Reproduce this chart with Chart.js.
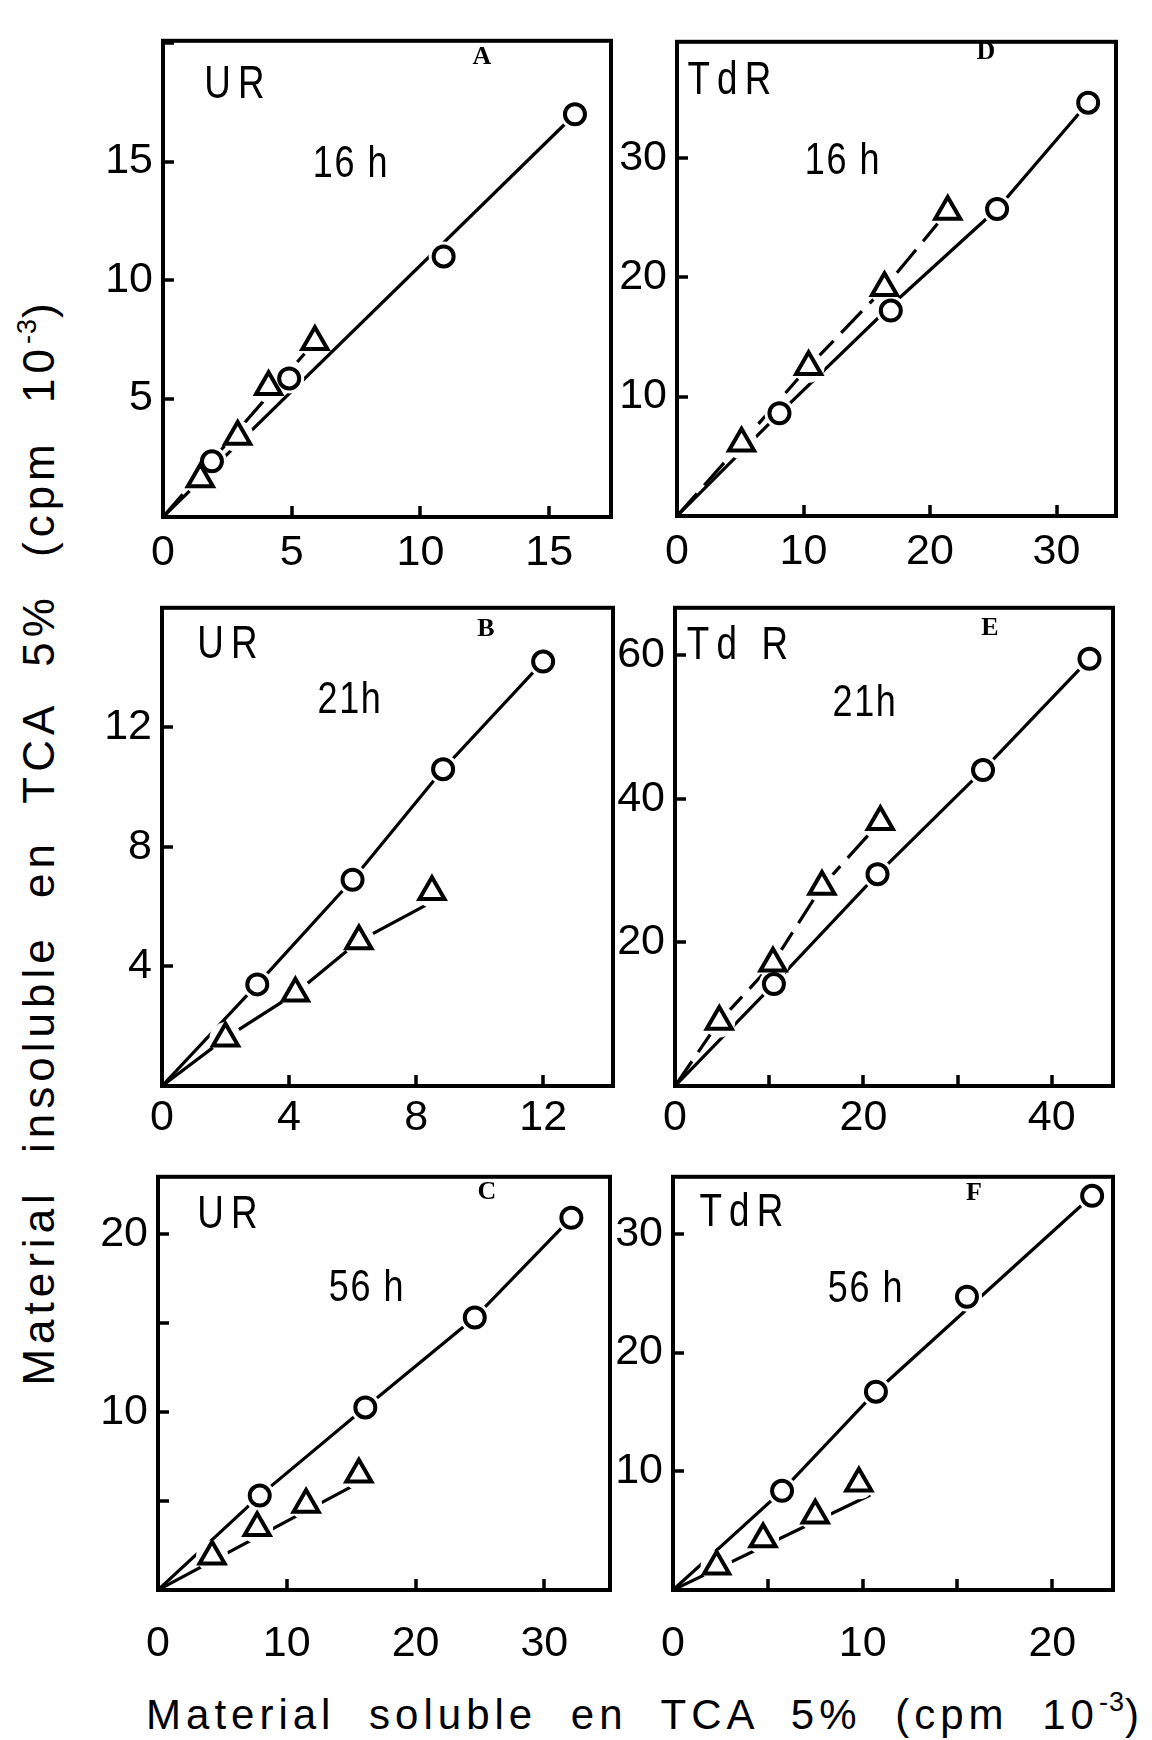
<!DOCTYPE html>
<html>
<head>
<meta charset="utf-8">
<title>Material insoluble vs soluble en TCA 5%</title>
<script src="https://cdn.jsdelivr.net/npm/chart.js@4.4.1/dist/chart.umd.min.js"></script>
<style>
  html, body { margin: 0; padding: 0; background: #fff; }
  #fig { position: relative; width: 1152px; height: 1740px; overflow: hidden; background: #fff; }
  #fig canvas { position: absolute; }
  .txt {
    position: absolute; color: #000; white-space: nowrap; line-height: 1;
    font-family: 'Liberation Sans', Arial, sans-serif;
    transform: translate(-50%, -50%) scaleX(0.8);
  }
  .iso { font-size: 46px; letter-spacing: 9px; }
  .hour { font-size: 45px; letter-spacing: 2px; }
  .tag { font-family: 'Liberation Serif', 'DejaVu Serif', serif; font-weight: bold; font-size: 26px;
         transform: translate(-50%, -50%); }
  .axis { font-size: 42px; letter-spacing: 5px; word-spacing: 17px; transform: translate(-50%, -50%); }
  .axis sup { font-size: 27px; letter-spacing: 1px; vertical-align: 18px; line-height: 0; }
  #ytitle { font-size: 44px; letter-spacing: 5px; word-spacing: 19px; transform: translate(-50%, -50%) rotate(-90deg); }
</style>
</head>
<body>
<div id="fig">
  <canvas id="cA"></canvas><canvas id="cD"></canvas>
  <canvas id="cB"></canvas><canvas id="cE"></canvas>
  <canvas id="cC"></canvas><canvas id="cF"></canvas>

  <div class="txt iso"  style="left:238px;top:82px">UR</div>
  <div class="txt hour" style="left:351px;top:161px">16 h</div>
  <div class="txt tag"  style="left:482px;top:56px">A</div>

  <div class="txt iso"  style="left:733px;top:78px">TdR</div>
  <div class="txt hour" style="left:843px;top:158px">16 h</div>
  <div class="txt tag"  style="left:986px;top:51px">D</div>

  <div class="txt iso"  style="left:231px;top:642px">UR</div>
  <div class="txt hour" style="left:350px;top:697px">21h</div>
  <div class="txt tag"  style="left:486px;top:628px">B</div>

  <div class="txt iso"  style="left:741px;top:643px">Td R</div>
  <div class="txt hour" style="left:865px;top:700px">21h</div>
  <div class="txt tag"  style="left:990px;top:627px">E</div>

  <div class="txt iso"  style="left:231px;top:1212px">UR</div>
  <div class="txt hour" style="left:367px;top:1285px">56 h</div>
  <div class="txt tag"  style="left:487px;top:1191px">C</div>

  <div class="txt iso"  style="left:745px;top:1210px">TdR</div>
  <div class="txt hour" style="left:866px;top:1286px">56 h</div>
  <div class="txt tag"  style="left:974px;top:1192px">F</div>

  <div class="txt axis" id="ytitle" style="left:39px;top:842px">Material insoluble en TCA 5% (cpm 10<sup>-3</sup>)</div>
  <div class="txt axis" id="xtitle" style="left:645px;top:1715px">Material soluble en TCA 5% (cpm 10<sup>-3</sup>)</div>
</div>

<script>
// ---------- data (x = soluble, y = insoluble, cpm 10^-3) ----------

// A — UR, 16 h
const aCircles      = [[1.9, 2.35], [4.9, 5.85], [10.9, 11.0], [16.0, 17.0]];
const aTriangles    = [[1.45, 1.6], [2.9, 3.4], [4.1, 5.5], [5.9, 7.4]];
const aCircleLine   = [[0, 0], [16.0, 17.0]];
const aTriangleLine = [[0, 0], [5.9, 7.4]];
const aXLabels = [0, 5, 10, 15];
const aYLabels = [5, 10, 15];

// D — TdR, 16 h
const dCircles      = [[8.1, 8.6], [16.9, 17.2], [25.3, 25.7], [32.5, 34.6]];
const dTriangles    = [[5.1, 6.1], [10.4, 12.5], [16.4, 19.1], [21.4, 25.5]];
const dCircleLine   = [[0, 0], [8.1, 8.6], [16.9, 17.6], [25.3, 25.7], [32.5, 34.6]];
const dTriangleLine = [[0, 0], [5.1, 6.1], [10.4, 12.5], [16.4, 19.1], [21.4, 25.5]];
const dXLabels = [0, 10, 20, 30];
const dYLabels = [10, 20, 30];

// B — UR, 21 h
const bCircles      = [[3.0, 3.4], [6.0, 6.9], [8.85, 10.6], [12.0, 14.2]];
const bTriangles    = [[2.0, 1.6], [4.2, 3.1], [6.2, 4.85], [8.5, 6.5]];
const bCircleLine   = [[0, 0], [3.0, 3.4], [6.0, 6.9], [8.85, 10.6], [12.0, 14.2]];
const bTriangleLine = [[0, 0], [2.0, 1.6], [4.2, 3.1], [6.2, 4.85], [8.4, 6.1]];
const bXLabels = [0, 4, 8, 12];
const bYLabels = [4, 8, 12];

// E — TdR, 21 h
const eCircles      = [[10.5, 14.2], [21.5, 29.5], [32.7, 44.0], [44.0, 59.5]];
const eTriangles    = [[4.7, 9.0], [10.4, 17.1], [15.6, 27.8], [21.8, 36.8]];
const eCircleLine   = [[0, 0], [10.5, 14.2], [21.5, 29.5], [32.7, 44.0], [44.0, 59.5]];
const eTriangleLine = [[0, 0], [4.7, 9.0], [10.4, 17.1], [15.6, 27.8], [21.8, 36.8]];
const eXLabels = [0, 20, 40];
const eYLabels = [20, 40, 60];

// C — UR, 56 h
const cCircles      = [[7.9, 5.3], [16.1, 10.25], [24.6, 15.3], [32.1, 20.9]];
const cTriangles    = [[4.2, 1.9], [7.7, 3.5], [11.5, 4.8], [15.6, 6.5]];
const cCircleLine   = [[0, 0], [7.9, 5.3], [16.1, 10.25], [24.6, 15.3], [32.1, 20.9]];
const cTriangleLine = [[0, 0], [16.3, 6.3]];
const cXLabels = [0, 10, 20, 30];
const cYLabels = [10, 20];

// F — TdR, 56 h
const fCircles      = [[5.75, 8.35], [10.7, 16.7], [15.5, 24.7], [22.1, 33.2]];
const fTriangles    = [[2.3, 2.0], [4.75, 4.3], [7.5, 6.3], [9.8, 9.0]];
const fCircleLine   = [[0, 0], [5.75, 8.35], [10.7, 16.7], [22.1, 33.2]];
const fTriangleLine = [[0, 0], [10.4, 8.0]];
const fXLabels = [0, 10, 20];
const fYLabels = [10, 20, 30];

// ---------- panel setup: axis extents, steps and placement ----------
const FONT = "'Liberation Sans', Arial, sans-serif";
const PAD = { left: 80, top: 12, right: 24, bottom: 80 };

const panels = [
  { canvas: 'cA', circles: aCircles, triangles: aTriangles, circleLine: aCircleLine, triangleLine: aTriangleLine,
    dashed: true,  xMax: 17.4, yMax: 20.1, xStep: 5,  yStep: 5,  xLabels: aXLabels, yLabels: aYLabels,
    area: { l: 163, r: 611, t: 17, b: 517 }, xPad: 10 },
  { canvas: 'cD', circles: dCircles, triangles: dTriangles, circleLine: dCircleLine, triangleLine: dTriangleLine,
    dashed: true,  xMax: 34.7, yMax: 39.7, xStep: 10, yStep: 10, xLabels: dXLabels, yLabels: dYLabels,
    area: { l: 677, r: 1116, t: 18, b: 516 }, xPad: 10 },
  { canvas: 'cB', circles: bCircles, triangles: bTriangles, circleLine: bCircleLine, triangleLine: bTriangleLine,
    dashed: false, xMax: 14.2, yMax: 16.0, xStep: 4,  yStep: 4,  xLabels: bXLabels, yLabels: bYLabels,
    area: { l: 162, r: 613, t: 584, b: 1086 }, xPad: 6 },
  { canvas: 'cE', circles: eCircles, triangles: eTriangles, circleLine: eCircleLine, triangleLine: eTriangleLine,
    dashed: true,  xMax: 46.5, yMax: 66.6, xStep: 10, yStep: 20, xLabels: eXLabels, yLabels: eYLabels,
    area: { l: 675, r: 1113, t: 584, b: 1086 }, xPad: 6 },
  { canvas: 'cC', circles: cCircles, triangles: cTriangles, circleLine: cCircleLine, triangleLine: cTriangleLine,
    dashed: false, xMax: 35.1, yMax: 23.2, xStep: 10, yStep: 5,  xLabels: cXLabels, yLabels: cYLabels,
    area: { l: 158, r: 610, t: 1153, b: 1590 }, xPad: 28 },
  { canvas: 'cF', circles: fCircles, triangles: fTriangles, circleLine: fCircleLine, triangleLine: fTriangleLine,
    dashed: false, xMax: 23.2, yMax: 34.8, xStep: 5,  yStep: 10, xLabels: fXLabels, yLabels: fYLabels,
    area: { l: 673, r: 1113, t: 1153, b: 1590 }, xPad: 28 }
];

const toXY = pts => pts.map(([x, y]) => ({ x, y }));

// Box around the plot plus short inward tick marks
const frameTicks = {
  id: 'frameTicks',
  afterDatasetsDraw(chart) {
    const { ctx, chartArea: a } = chart;
    const xs = chart.scales.x, ys = chart.scales.y;
    ctx.save();
    ctx.strokeStyle = '#000';
    ctx.lineWidth = 3.5;
    ctx.beginPath();
    for (const t of xs.ticks) {
      if (t.value <= xs.min || t.value >= xs.max) continue;
      const px = Math.round(xs.getPixelForValue(t.value));
      ctx.moveTo(px, a.bottom);
      ctx.lineTo(px, a.bottom - 11);
    }
    for (const t of ys.ticks) {
      if (t.value <= ys.min || t.value >= ys.max) continue;
      const py = Math.round(ys.getPixelForValue(t.value));
      ctx.moveTo(a.left, py);
      ctx.lineTo(a.left + 11, py);
    }
    ctx.stroke();
    ctx.lineWidth = 4;
    ctx.strokeRect(a.left, a.top, a.right - a.left, a.bottom - a.top);
    ctx.restore();
  }
};

function lineSet(pts, dashed) {
  return {
    data: toXY(pts), showLine: true, pointRadius: 0, borderColor: '#000',
    borderWidth: 3.2, borderDash: dashed ? [30, 11] : [], tension: 0, fill: false, order: 3
  };
}
function haloSet(pts, r) {
  return {
    data: toXY(pts), showLine: false, pointStyle: 'circle', pointRadius: r,
    pointBackgroundColor: '#fff', pointBorderColor: '#fff', pointBorderWidth: 0, order: 2
  };
}
function markerSet(pts, style, r) {
  return {
    data: toXY(pts), showLine: false, pointStyle: style, pointRadius: r,
    pointBackgroundColor: '#fff', pointBorderColor: '#000', pointBorderWidth: 4, order: 1
  };
}

for (const p of panels) {
  const cv = document.getElementById(p.canvas);
  const w = (p.area.r - p.area.l) + PAD.left + PAD.right;
  const h = (p.area.b - p.area.t) + PAD.top + PAD.bottom;
  cv.width = w; cv.height = h;
  cv.style.left = (p.area.l - PAD.left) + 'px';
  cv.style.top = (p.area.t - PAD.top) + 'px';
  cv.style.width = w + 'px'; cv.style.height = h + 'px';

  new Chart(cv, {
    type: 'scatter',
    data: {
      datasets: [
        lineSet(p.circleLine, false),
        lineSet(p.triangleLine, p.dashed),
        haloSet(p.circles, 15),
        haloSet(p.triangles, 16),
        markerSet(p.circles, 'circle', 10),
        markerSet(p.triangles, 'triangle', 14.5)
      ]
    },
    options: {
      responsive: false,
      animation: false,
      devicePixelRatio: 1,
      events: [],
      layout: { padding: { left: 0, top: PAD.top, right: PAD.right, bottom: 0 } },
      plugins: { legend: { display: false }, tooltip: { enabled: false } },
      scales: {
        x: {
          type: 'linear', min: 0, max: p.xMax,
          grid: { display: false, drawTicks: false },
          border: { display: false },
          afterFit: s => { s.height = PAD.bottom; },
          ticks: {
            stepSize: p.xStep, includeBounds: false, autoSkip: false, maxRotation: 0,
            padding: p.xPad, color: '#000', font: { family: FONT, size: 43 },
            callback: v => p.xLabels.includes(v) ? String(v) : ''
          }
        },
        y: {
          type: 'linear', min: 0, max: p.yMax,
          grid: { display: false, drawTicks: false },
          border: { display: false },
          afterFit: s => { s.width = PAD.left; },
          ticks: {
            stepSize: p.yStep, includeBounds: false, autoSkip: false,
            padding: 10, color: '#000', font: { family: FONT, size: 43 },
            callback: v => p.yLabels.includes(v) ? String(v) : ''
          }
        }
      }
    },
    plugins: [frameTicks]
  });
}
</script>
</body>
</html>
